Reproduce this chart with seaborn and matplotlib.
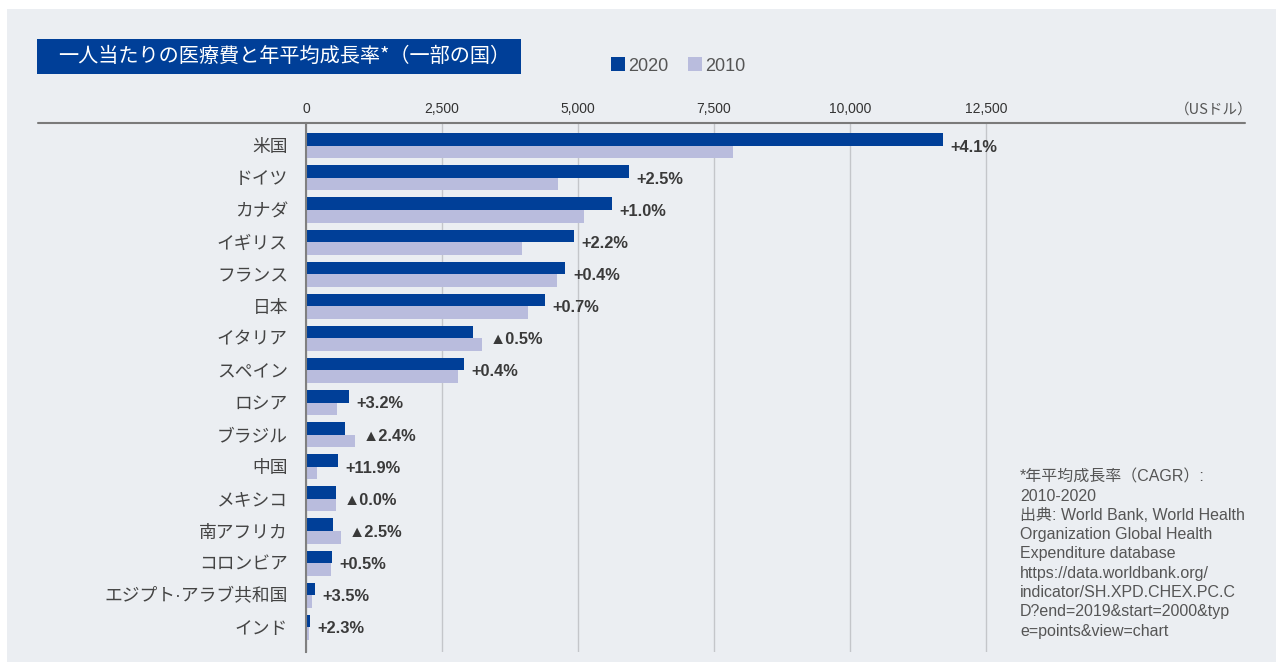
import matplotlib
matplotlib.use("Agg")
import matplotlib.pyplot as plt
from matplotlib.patches import Rectangle
from matplotlib.lines import Line2D
import seaborn as sns
import pandas as pd

countries = ['米国', 'ドイツ', 'カナダ', 'イギリス', 'フランス', '日本', 'イタリア', 'スペイン',
             'ロシア', 'ブラジル', '中国', 'メキシコ', '南アフリカ', 'コロンビア',
             'エジプト·アラブ共和国', 'インド']
v2020 = [11702, 5930, 5620, 4930, 4770, 4390, 3070, 2900, 790, 715, 585, 550, 495, 475, 165, 75]
v2010 = [7850, 4630, 5105, 3970, 4610, 4080, 3235, 2795, 570, 900, 200, 550, 640, 460, 110, 55]
cagr = ['+4.1%', '+2.5%', '+1.0%', '+2.2%', '+0.4%', '+0.7%', '▲0.5%', '+0.4%',
        '+3.2%', '▲2.4%', '+11.9%', '▲0.0%', '▲2.5%', '+0.5%', '+3.5%', '+2.3%']
years = ['2020', '2010']
xticks = [0, 2500, 5000, 7500, 10000, 12500]

title = '一人当たりの医療費と年平均成長率*（一部の国）'
unit = '（USドル）'
note = ('*年平均成長率（CAGR）:\n2010-2020\n出典: World Bank, World Health\n'
        'Organization Global Health\nExpenditure database\nhttps://data.worldbank.org/\n'
        'indicator/SH.XPD.CHEX.PC.C\nD?end=2019&start=2000&typ\ne=points&view=chart')

df = pd.DataFrame({
    'country': countries * 2,
    'year': [years[0]] * len(countries) + [years[1]] * len(countries),
    'value': v2020 + v2010,
})

sns.set_theme(style='white')
CJK = ['Noto Sans CJK JP', 'DejaVu Sans']
LAT = ['Liberation Sans', 'Noto Sans CJK JP', 'DejaVu Sans']
plt.rcParams['font.family'] = LAT

W, H = 1276, 662
fig = plt.figure(figsize=(W / 100, H / 100), dpi=100, facecolor='white')

# grey panel background
fig.patches.append(Rectangle((7 / W, 0), 1 - 7 / W, 1 - 9 / H, transform=fig.transFigure,
                             facecolor='#ebeef2', edgecolor='none', zorder=-2))
# title box
fig.patches.append(Rectangle((37 / W, 1 - 74 / H), (521 - 37) / W, 35 / H,
                             transform=fig.transFigure, facecolor='#003f98',
                             edgecolor='none', zorder=-1))
fig.text(58 / W, 1 - 56.5 / H, title, color='white', fontsize=14.5, va='center', ha='left',
         family=CJK)

ax_left, ax_right, ax_top, ax_bot = 306, 1245, 123, 652
ax = fig.add_axes([ax_left / W, 1 - ax_bot / H, (ax_right - ax_left) / W, (ax_bot - ax_top) / H])
ax.set_facecolor('none')
ax.set_zorder(2)

palette = {'2020': '#003f98', '2010': '#b9bcdd'}
sns.barplot(data=df, y='country', x='value', hue='year', hue_order=years,
            order=countries, palette=palette, orient='h', width=0.78,
            saturation=1, linewidth=0, ax=ax, legend=True)

px_per_unit = 680 / 12500
ax.set_xlim(0, (ax_right - ax_left) / px_per_unit)
ax.set_ylim(len(countries) - 1 + 0.77, -0.71)

ax.xaxis.tick_top()
ax.set_xticks(xticks)
ax.set_xticklabels([f'{t:,}' for t in xticks], fontsize=10, color='#333333')
ax.tick_params(axis='x', length=0, pad=5)
ax.tick_params(axis='y', length=0, pad=13, labelsize=12.8, labelcolor='#444444')
for t in ax.get_yticklabels():
    t.set_family(LAT)
ax.set_xlabel('')
ax.set_ylabel('')

ax.grid(axis='x', color='#c4c6ca', linewidth=1)
ax.grid(axis='y', visible=False)
ax.set_axisbelow(True)
for s in ['top', 'right', 'bottom']:
    ax.spines[s].set_visible(False)
ax.spines['left'].set_color('#808080')
ax.spines['left'].set_linewidth(1.5)
ax.spines['left'].set_zorder(5)

# top rule
fig.add_artist(Line2D([38 / W, 1245 / W], [1 - 123 / H, 1 - 123 / H], transform=fig.transFigure,
                      color='#7a7a7a', linewidth=1.5, zorder=3))

# CAGR annotations
for i, (a, b, lab) in enumerate(zip(v2020, v2010, cagr)):
    ax.annotate(lab, xy=(max(a, b), i), xytext=(5.5, -1), textcoords='offset points',
                va='center', ha='left', fontsize=11.8, fontweight='bold', color='#3a3a3a')

# legend
leg = ax.get_legend()
handles = leg.legend_handles
labels = [t.get_text() for t in leg.get_texts()]
ax.legend(handles, labels, loc='center left', bbox_to_anchor=(611 / W, 1 - 66 / H),
          bbox_transform=fig.transFigure, ncol=2, frameon=False, fontsize=13,
          handlelength=0.78, handleheight=0.78, handletextpad=0.15, columnspacing=1.1,
          borderpad=0, borderaxespad=0, labelcolor='#555555')

fig.text(1253 / W, 1 - 110 / H, unit, ha='right', va='center', fontsize=10.5, color='#555555',
         family=CJK)
fig.text(1020 / W, 1 - 469 / H, note, ha='left', va='top', fontsize=11.5, color='#555555',
         linespacing=1.36)

fig.savefig('out.png', dpi=100, facecolor='white')
